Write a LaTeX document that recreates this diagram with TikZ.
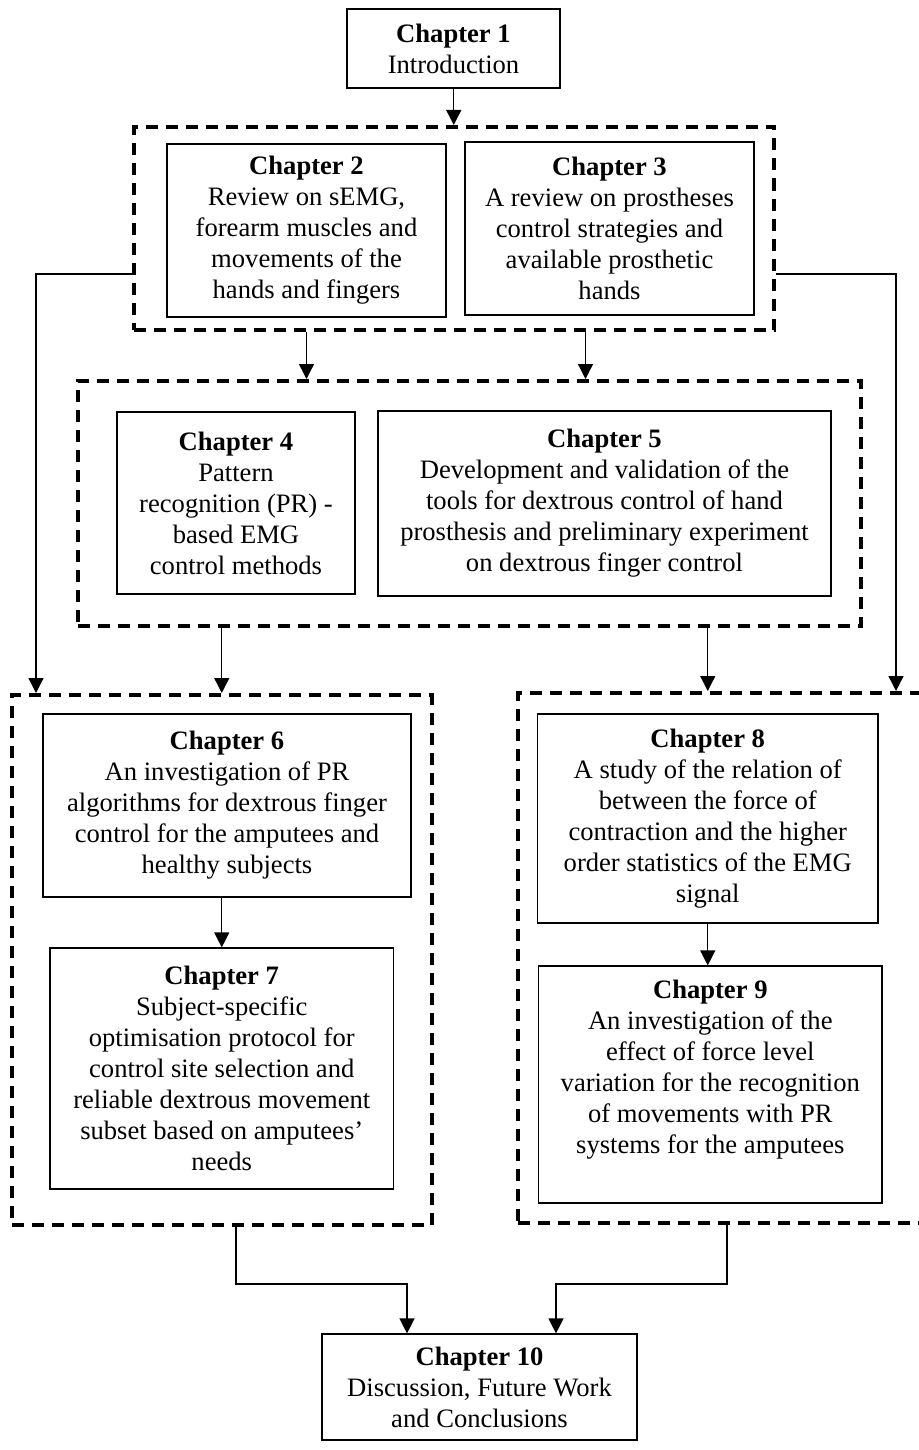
\documentclass[tikz,border=0pt]{standalone}
\usepackage{fontspec}
\setmainfont{Liberation Serif}
\usetikzlibrary{arrows.meta,positioning}

\tikzset{
  chbox/.style={draw, line width=1.2pt, align=center, inner sep=0pt, font=\fontsize{26.6}{31}\selectfont},
  chtext/.style={align=center, inner sep=0pt, font=\fontsize{26.6}{31}\selectfont},
  group/.style={draw, line width=4pt, dash pattern=on 12pt off 8pt, inner sep=0pt},
  arr/.style={line width=1.3pt, -{Triangle[length=15pt,width=15pt]}},
}

\begin{document}
\begin{tikzpicture}[x=1pt,y=1pt,yscale=-1,xscale=1]
\useasboundingbox (0,0) rectangle (918,1450);

%Shape: dashed groups
\node[group, minimum width=640.5pt, minimum height=203pt] (dash1) at (453.75,228.5) {};
\node[group, minimum width=783pt, minimum height=245pt] (dash2) at (469.5,503.5) {};
\node[group, minimum width=419.5pt, minimum height=530pt] (dash3) at (221.75,960) {};
\node[group, minimum width=417pt, minimum height=530pt] (dash4) at (726.5,958) {};

% Text Node
\node[chbox, minimum width=213pt, minimum height=79pt] (ch1) at (453.5,48.5) {\textbf{Chapter 1}\\Introduction};
% Text Node
\node[chbox, minimum width=279pt, minimum height=173pt] (ch2) at (306.5,230.5) {\textbf{Chapter 2}\\Review on sEMG,\\forearm muscles and\\movements of the\\hands and fingers};
% Text Node
\node[chbox, minimum width=289pt, minimum height=173pt] (ch3) at (609.5,228.5) {\textbf{Chapter 3}\\A review on prostheses\\control strategies and\\available prosthetic\\hands};
% Text Node
\node[chbox, minimum width=238pt, minimum height=182pt] (ch4) at (236,503) {\textbf{Chapter 4}\\Pattern\\recognition (PR) -\\based EMG\\control methods};
% Text Node
\node[chbox, minimum width=453pt, minimum height=185pt] (ch5) at (604.5,503.5) {\textbf{Chapter 5}\\Development and validation of the\\tools for dextrous control of hand\\prosthesis and preliminary experiment\\on dextrous finger control};
% Text Node
\node[chbox, minimum width=368pt, minimum height=183pt] (ch6) at (227,805.5) {\textbf{Chapter 6}\\An investigation of PR\\algorithms for dextrous finger\\control for the amputees and\\healthy subjects};
% Text Node
\node[chbox, minimum width=343.5pt, minimum height=241pt] (ch7) at (221.75,1068.5) {\textbf{Chapter 7}\\Subject-specific\\optimisation protocol for\\control site selection and\\reliable dextrous movement\\subset based on amputees’\\needs};
% Text Node
\node[chbox, minimum width=340.5pt, minimum height=209pt] (ch8) at (707.75,818.5) {\textbf{Chapter 8}\\A study of the relation of\\between the force of\\contraction and the higher\\order statistics of the EMG\\signal};
% Text Node (box, text sits high in it)
\node[chbox, minimum width=343.4pt, minimum height=237pt] (ch9) at (710.3,1084.5) {};
\node[chtext] (ch9txt) at (710.3,1069.5) {\textbf{Chapter 9}\\An investigation of the\\effect of force level\\variation for the recognition\\of movements with PR\\systems for the amputees};
% Text Node
\node[chbox, minimum width=315pt, minimum height=106pt] (ch10) at (479.5,1387) {\textbf{Chapter 10}\\Discussion, Future Work\\and Conclusions};

%Straight Lines
\coordinate (c3) at (585.5,0);
\coordinate (lft) at (36,274);
\coordinate (rgt) at (896,274);
\coordinate (j3) at (236,1284);
\coordinate (k3) at (407,1284);
\coordinate (j4) at (727,1284);
\coordinate (k4) at (556,1284);

\draw[arr] (ch1.south -| dash1.north) -- (dash1.north);
\draw[arr] (ch2.south |- dash1.south) -- (ch2.south |- dash2.north);
\draw[arr] (c3 |- dash1.south) -- (c3 |- dash2.north);
\draw[arr] (dash3.north |- dash2.south) -- (dash3.north);
\draw[arr] (ch8.north |- dash2.south) -- (ch8.north |- dash4.north);
\draw[arr] (dash1.west |- lft) -- (lft) -- (lft |- dash3.north);
\draw[arr] (dash1.east |- rgt) -- (rgt) -- (rgt |- dash4.north);
\draw[arr] (ch7.north |- ch6.south) -- (ch7.north);
\draw[arr] (ch8.south) -- (ch8.south |- ch9.north);
\draw[arr] (j3 |- dash3.south) -- (j3) -- (k3) -- (k3 |- ch10.north);
\draw[arr] (j4 |- dash4.south) -- (j4) -- (k4) -- (k4 |- ch10.north);

\end{tikzpicture}
\end{document}
